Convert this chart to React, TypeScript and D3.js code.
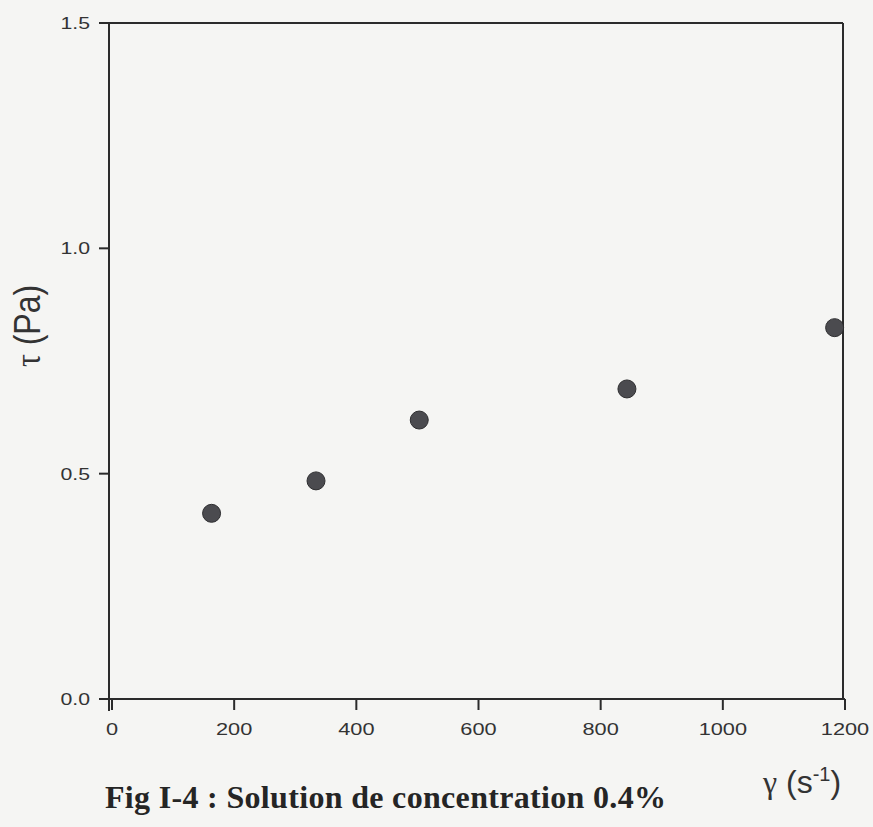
import React from "react";
import * as d3 from "d3";

const shearRate = [163, 334, 503, 843, 1183];
const stress = [0.412, 0.484, 0.619, 0.688, 0.824];
const xTicks = [0, 200, 400, 600, 800, 1000, 1200];
const yTicks = [0.0, 0.5, 1.0, 1.5];
const caption = "Fig I-4 : Solution de concentration 0.4%";

export default function App() {
  const W = 873, H = 827;
  const x = d3.scaleLinear().domain([0, 1200]).range([112, 845]);
  const y = d3.scaleLinear().domain([0, 1.5]).range([699, 23]);
  const left = 109, right = 843, top = 23, bottom = 699;
  const stroke = "#2b2b2b";
  const sans = "Liberation Sans, Arial, sans-serif";
  const serif = "Liberation Serif, Times New Roman, serif";
  return (
    <svg width={W} height={H} style={{ position: "absolute", left: 0, top: 0 }}>
      <rect x={0} y={0} width={W} height={H} fill="#f5f5f3" />
      {/* frame */}
      <line x1={left} y1={top} x2={right} y2={top} stroke={stroke} strokeWidth={2} />
      <line x1={right} y1={top} x2={right} y2={bottom} stroke={stroke} strokeWidth={2} />
      <line x1={left} y1={top} x2={left} y2={bottom + 12} stroke={stroke} strokeWidth={2} />
      <line x1={100} y1={bottom} x2={845} y2={bottom} stroke={stroke} strokeWidth={2} />
      {/* y ticks */}
      {yTicks.map((t) => (
        <g key={"y" + t}>
          <line x1={left - 10} x2={left} y1={y(t)} y2={y(t)} stroke={stroke} strokeWidth={2} />
          <text transform={`translate(90,${y(t) + 6}) scale(1.25,1)`} textAnchor="end" fontFamily={sans} fontSize={17} fill="#333">
            {t.toFixed(1)}
          </text>
        </g>
      ))}
      {/* x ticks */}
      {xTicks.map((t) => (
        <g key={"x" + t}>
          <line x1={x(t)} x2={x(t)} y1={bottom} y2={bottom + 11} stroke={stroke} strokeWidth={2} />
          <text transform={`translate(${x(t)},735) scale(1.28,1)`} textAnchor="middle" fontFamily={sans} fontSize={17} fill="#333">
            {t}
          </text>
        </g>
      ))}
      {/* points */}
      {shearRate.map((v, i) => (
        <circle key={"p" + i} cx={x(v)} cy={y(stress[i])} r={9} fill="#4b4b4f" stroke="#2e2e30" strokeWidth={1} />
      ))}
      {/* y label */}
      <text transform="translate(40,326) rotate(-90) scale(1,1.15)" textAnchor="middle" fontFamily={sans} fontSize={32} fill="#333">
        <tspan fontFamily={serif}>τ</tspan> (Pa)
      </text>
      {/* x label */}
      <text x={763} y={793} fontFamily={sans} fontSize={32} fill="#333">
        <tspan fontFamily={serif}>γ</tspan> (s<tspan dy={-12} fontSize={20}>-1</tspan><tspan dy={12}>)</tspan>
      </text>
      {/* caption */}
      <text x={105} y={808} fontFamily={serif} fontWeight="bold" fontSize={32} fill="#252525" textLength={561} lengthAdjust="spacing">
        {caption}
      </text>
    </svg>
  );
}
